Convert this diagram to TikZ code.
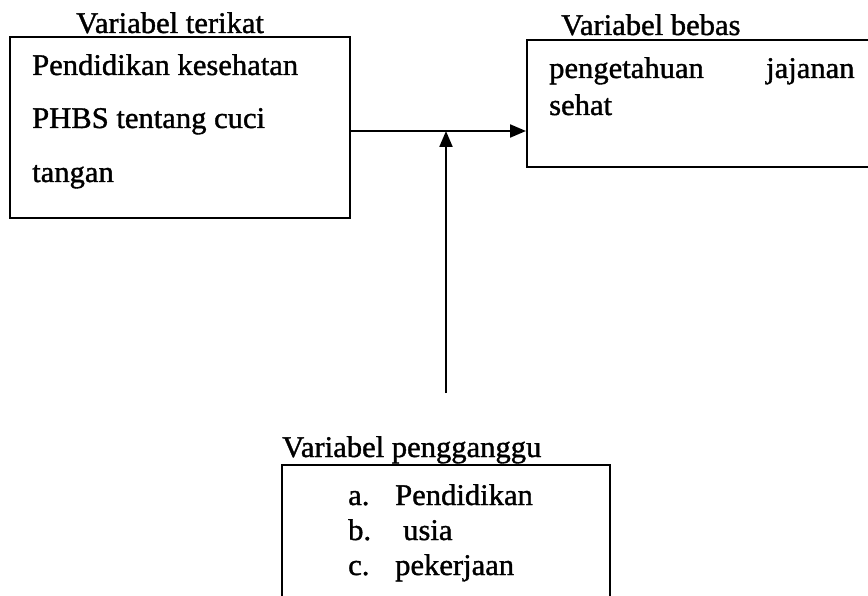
\documentclass[tikz,border=0pt]{standalone}
\usepackage{fontspec}
\setmainfont[RawFeature={embolden=1.2}]{Liberation Serif}
\usetikzlibrary{arrows.meta}
\begin{document}
\begin{tikzpicture}[x=1pt,y=-1pt,
  kotak/.style={draw,line width=2pt,inner sep=0pt},
  teks/.style={anchor=base west,inner sep=0pt,font=\fontsize{30}{34}\selectfont,xscale=1.02},
  panah/.style={line width=2.2pt,-{Triangle[length=16pt,width=13pt]}}]
\clip (0,0) rectangle (868,596);
\fill[white] (0,0) rectangle (868,596);

\node[kotak,minimum width=340pt,minimum height=181pt] (terikat) at (180,127.5) {};
\node[kotak,minimum width=373pt,minimum height=127pt] (bebas) at (713.5,103.5) {};
\node[kotak,minimum width=328pt,minimum height=175pt] (pengganggu) at (446,552.5) {};

\node[teks] (judulterikat) at (76,33) {Variabel terikat};
\node[teks] (judulbebas) at (561,35) {Variabel bebas};
\node[teks] (judulpengganggu) at (282,457) {Variabel pengganggu};

\node[teks] (pendidikan) at (32,75) {Pendidikan kesehatan};
\node[teks] (phbs) at (32,128) {PHBS tentang cuci};
\node[teks] (tangan) at (32,182) {tangan};

\node[teks] (pengetahuan) at (549,78) {pengetahuan};
\node[teks] (jajanan) at (766,78) {jajanan};
\node[teks] (sehat) at (549,115) {sehat};

\node[teks] (hurufa) at (348,505) {a.};
\node[teks] (didik) at (395,505) {Pendidikan};
\node[teks] (hurufb) at (348,540) {b.};
\node[teks] (usia) at (403,540) {usia};
\node[teks] (hurufc) at (348,575) {c.};
\node[teks] (kerja) at (395,575) {pekerjaan};

\coordinate (temu) at (446,131);
\coordinate (bawah) at (446,393);
\draw[panah] (terikat.east |- temu) -- (bebas.west |- temu);
\draw[panah] (bawah) -- (temu);
\end{tikzpicture}
\end{document}
